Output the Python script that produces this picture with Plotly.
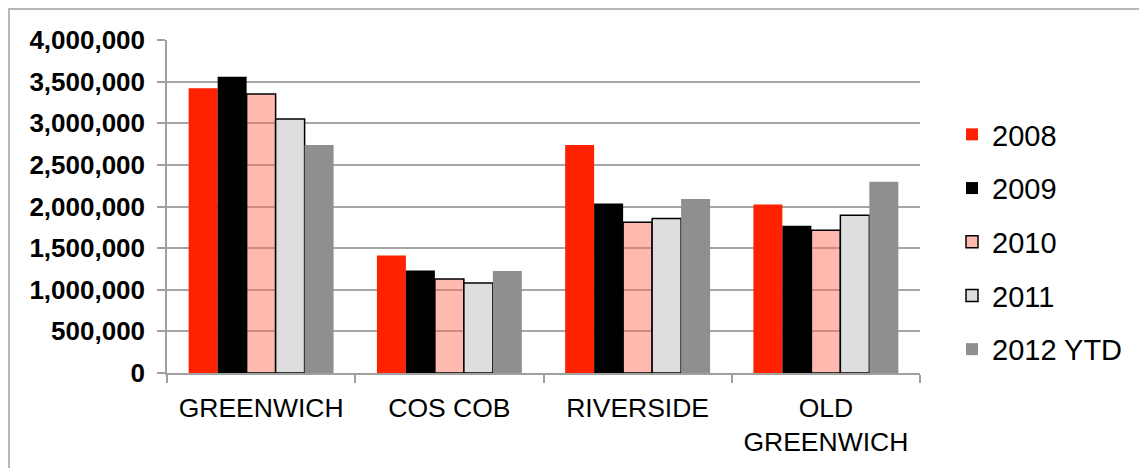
import plotly.graph_objects as go

categories = ["GREENWICH", "COS COB", "RIVERSIDE", "OLD<br>GREENWICH"]
series_names = ["2008", "2009", "2010", "2011", "2012 YTD"]
v2008 = [3420000, 1410000, 2740000, 2025000]
v2009 = [3560000, 1232000, 2036000, 1768000]
v2010 = [3350000, 1128000, 1812000, 1716000]
v2011 = [3050000, 1082000, 1856000, 1896000]
v2012 = [2740000, 1225000, 2090000, 2296000]
y_ticks = [0, 500000, 1000000, 1500000, 2000000, 2500000, 3000000, 3500000, 4000000]

values = [v2008, v2009, v2010, v2011, v2012]
fills = ["#ff2200", "#000000", "rgba(255,110,90,0.48)", "#dedede", "#8f8f8f"]
line_w = [0, 0, 1.5, 1.5, 0]

FONT = "Liberation Sans, Arial, sans-serif"

fig = go.Figure()
for name, vals, col, lw in zip(series_names, values, fills, line_w):
    fig.add_trace(go.Bar(
        x=categories, y=vals, name=name, legendgroup=name,
        marker=dict(color=col, line=dict(color="#000000", width=lw)),
    ))

OFF = 8  # page body margin
W, H = 1147 - OFF, 468 - OFF
L, R, T, B = 167 - OFF, 227, 40 - OFF, 95
pw, ph = W - L - R, H - T - B

def px_x(x):
    return (x - OFF - L) / pw

def px_y(y):
    return (H - B - (y - OFF)) / ph

fig.update_layout(
    width=W, height=H,
    margin=dict(l=L, r=R, t=T, b=B, pad=0),
    paper_bgcolor="white", plot_bgcolor="white",
    barmode="group", bargap=0.23, bargroupgap=0,
    font=dict(family=FONT, color="black"),
    legend=dict(
        x=px_x(952), xanchor="left",
        y=px_y(242), yanchor="middle",
        font=dict(size=29, family=FONT, color="black"),
        tracegroupgap=13, itemwidth=30,
        bgcolor="rgba(0,0,0,0)",
    ),
    xaxis=dict(
        showline=True, linecolor="#a0a0a0", linewidth=1.5,
        ticks="outside", ticklen=8, tickcolor="#a0a0a0", tickwidth=1.5,
        tickson="boundaries",
        tickfont=dict(size=26.5, family=FONT, color="black"),
        ticklabelstandoff=10,
        showgrid=False,
    ),
    yaxis=dict(
        range=[0, 4000000],
        tickvals=y_ticks, ticktext=[f"<b>{v:,}</b>" for v in y_ticks],
        showline=True, linecolor="#a0a0a0", linewidth=1.5,
        ticks="outside", ticklen=8, tickcolor="#a0a0a0", tickwidth=1.5,
        tickfont=dict(size=26, family=FONT, color="black"),
        showgrid=True, gridcolor="#a6a6a6", gridwidth=1.5,
        zeroline=False,
        ticklabelstandoff=7,
    ),
    shapes=[dict(
        type="rect", xref="paper", yref="paper",
        x0=px_x(OFF + 1), x1=px_x(1180),
        y0=px_y(500), y1=px_y(OFF + 1),
        line=dict(color="#a0a0a0", width=1.5), fillcolor="rgba(0,0,0,0)",
        layer="below",
    )],
)

fig.write_html("out.html")
